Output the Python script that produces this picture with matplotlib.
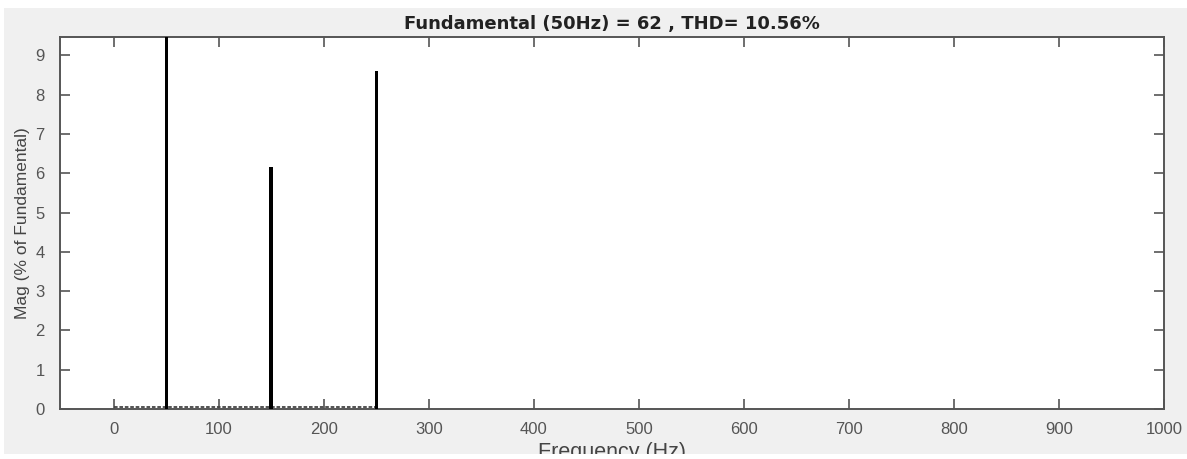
import matplotlib.pyplot as plt
from matplotlib.patches import Rectangle

# harmonic spectrum (% of fundamental)
harm_freq = [50, 150, 250]
harm_mag = [100.0, 6.15, 8.6]
bar_widths = [3.0, 3.8, 3.0]

# tiny residual components drawn as a dotted trace near zero
noise_span = [0, 250]
noise_level = 0.06

x_ticks = [0, 100, 200, 300, 400, 500, 600, 700, 800, 900, 1000]
y_ticks = [0, 1, 2, 3, 4, 5, 6, 7, 8, 9]

title = "Fundamental (50Hz) = 62 , THD= 10.56%"

plt.rcParams['font.family'] = ['Liberation Sans', 'DejaVu Sans']

W, H = 1187, 459
fig = plt.figure(figsize=(W / 100, H / 100), dpi=100)
fig.patch.set_facecolor('white')
# matlab-style gray window area
panel = Rectangle((4 / W, 5 / H), 1 - 4 / W, (454 - 8) / H,
                  transform=fig.transFigure, facecolor='#f0f0f0',
                  edgecolor='none', zorder=-10)
fig.patches.append(panel)

ax = fig.add_axes([60 / W, (H - 409) / H, (1164 - 60) / W, (409 - 37) / H])
ax.set_facecolor('white')

ax.hlines(noise_level, noise_span[0], noise_span[1], colors='#444444',
          linestyles=(0, (2.0, 1.0)), linewidth=1.3, zorder=2)
ax.bar(harm_freq, harm_mag, width=bar_widths, color='black', zorder=3)

ax.set_xlim(-51, 1000)
ax.set_ylim(0, 9.47)
ax.set_xticks(x_ticks)
ax.set_yticks(y_ticks)

ax.tick_params(direction='in', length=7, width=1.2, colors='#555555',
               labelcolor='#555555', labelsize=12, top=True, right=True)
ax.tick_params(axis='x', pad=9)
ax.tick_params(axis='y', pad=11)
for s in ax.spines.values():
    s.set_color('#555555')
    s.set_linewidth(1.4)

ax.set_title(title, fontsize=13, fontweight='bold', color='#222222', pad=6,
             family='DejaVu Sans')
xl = ax.set_xlabel("Frequency (Hz)", fontsize=15.5, color='#444444', labelpad=4)
# the window edge cuts the label, as in the original screenshot
xl.set_clip_path(panel)
ax.set_ylabel("Mag (% of Fundamental)", fontsize=12.5, color='#444444', labelpad=4)

fig.savefig("out.png", dpi=100)
